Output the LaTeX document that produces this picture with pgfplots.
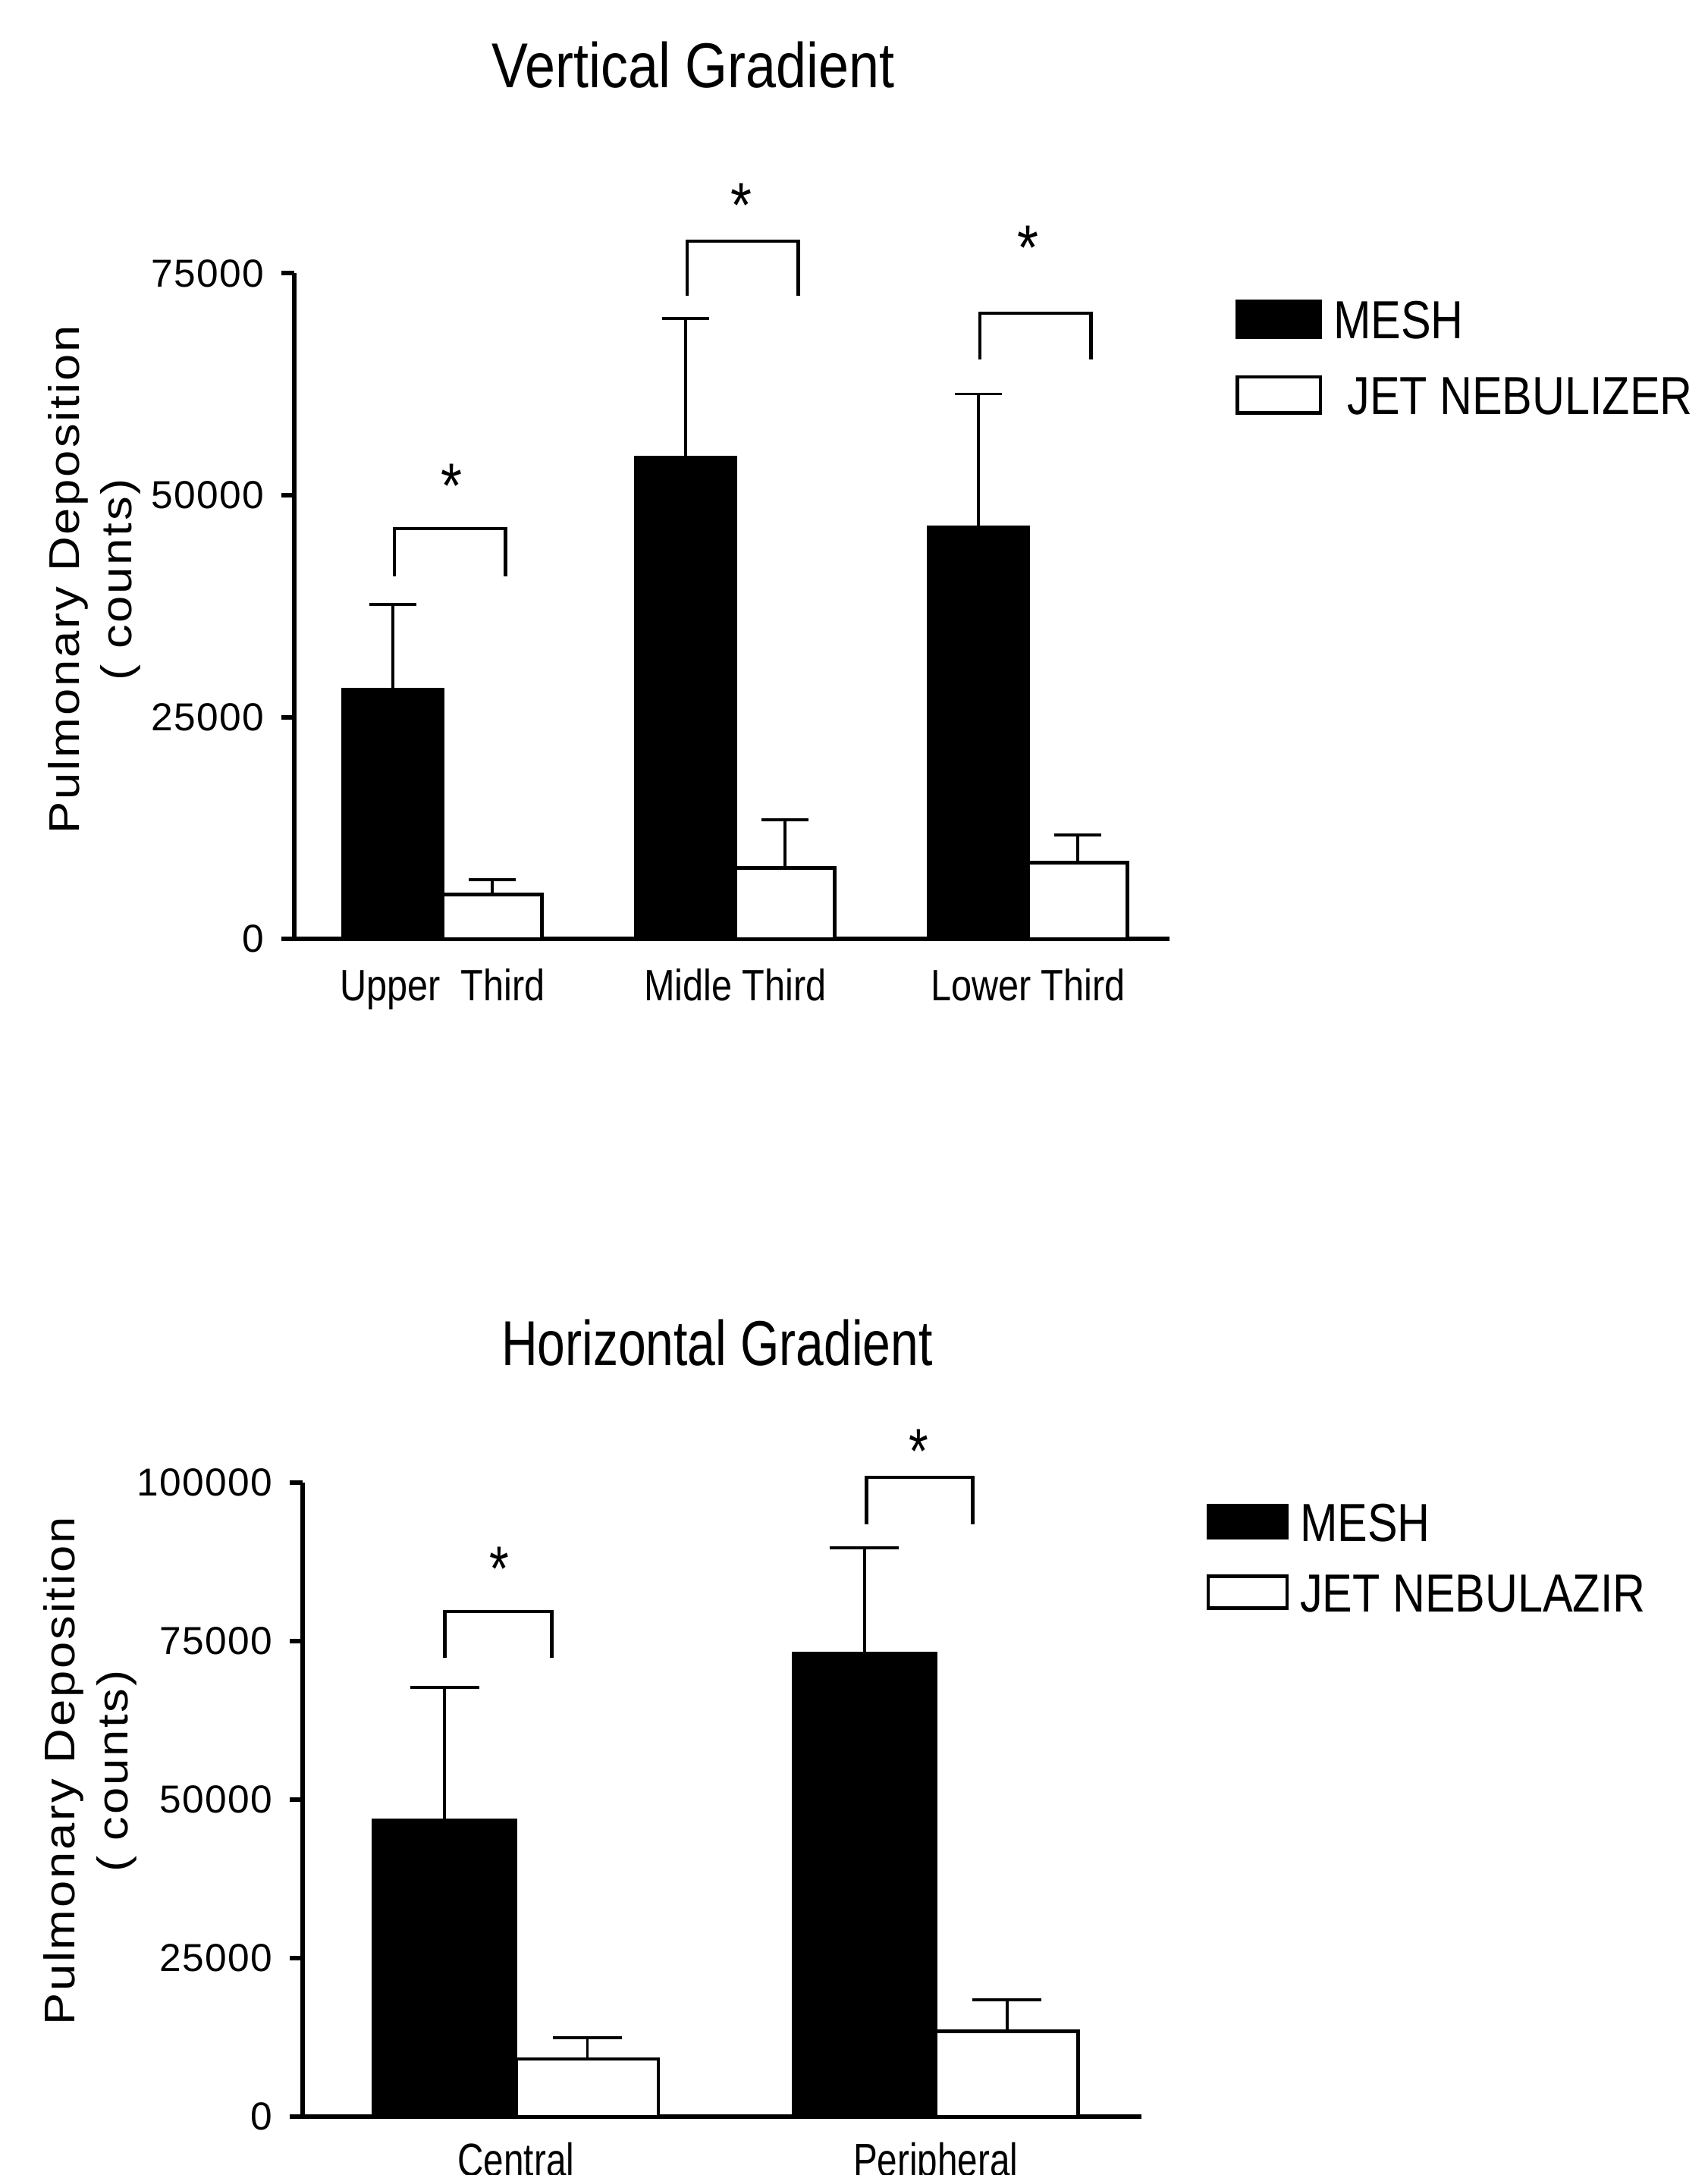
\documentclass[border=0pt]{standalone}
\usepackage{fontspec}
\setmainfont{Liberation Sans}
\newfontfamily\titleA{Liberation Sans}[FakeStretch=0.86]
\newfontfamily\titleB{Liberation Sans}[FakeStretch=0.79]
\newfontfamily\legf{Liberation Sans}[FakeStretch=0.84]
\newfontfamily\xtf{Liberation Sans}[FakeStretch=0.84]
\newfontfamily\xtfB{Liberation Sans}[FakeStretch=0.78]
\newfontfamily\ylf{Liberation Sans}[FakeStretch=1.12,LetterSpace=5]
\newfontfamily\ytf{Liberation Sans}[LetterSpace=3]
\usepackage{pgfplots}
\pgfplotsset{compat=1.18}
\pgfplotsset{
  boxlegA/.style={legend image code/.code={\draw[##1,line width=0.7pt] (0mm,-1.3mm) rectangle (6mm,1.3mm);}},
  boxlegB/.style={legend image code/.code={\draw[##1,line width=0.7pt] (0mm,-1.15mm) rectangle (5.7mm,1.15mm);}},
  common/.style={
    scale only axis, clip=false,
    axis x line*=bottom, axis y line*=left,
    axis line style={line width=0.9pt, black},
    tick align=outside, major tick length=0.9mm,
    ytick style={line width=0.9pt, black},
    xtick style={draw=none},
    ymin=0, scaled y ticks=false,
    yticklabel style={font=\ytf\fontsize{8}{9}\selectfont},
    legend cell align=left,
  },
  meshbar/.style={ybar, bar width=0.34, bar shift=0, fill=black, draw=black, line width=0.7pt},
  jetbar/.style={ybar, bar width=0.34, bar shift=0, fill=white, draw=black, line width=0.7pt},
  brk/.style={black, line width=0.7pt, mark=none, forget plot},
}
\begin{document}
\begin{tikzpicture}
\useasboundingbox (0,0) rectangle (123.1mm,156.8mm);

% ---------------- Vertical gradient ----------------
\begin{axis}[common,
  at={(21.2mm,89.1mm)}, anchor=south west,
  width=63.1mm, height=48mm,
  xmin=-0.507, xmax=2.483, ymax=75000,
  ytick={0,25000,50000,75000}, yticklabels={0,25000,50000,75000},
  xtick={0,1,2}, xticklabels={Upper\ \ Third, Midle Third, Lower Third},
  xticklabel style={font=\xtf\fontsize{9}{10}\selectfont},
  title={Vertical Gradient},
  title style={at={(axis description cs:0.456,1.3125)}, anchor=center, yshift=-6pt, inner sep=0pt, font=\titleA\fontsize{13}{15}\selectfont},
  ylabel={Pulmonary Deposition\\( counts)},
  ylabel style={align=center, at={(axis description cs:-0.228,0.54)}, anchor=center, font=\ylf\fontsize{8.8}{10.8}\selectfont},
  legend style={draw=none, fill=none, at={(axis description cs:1.0745,0.962)}, anchor=north west,
    inner sep=0pt, row sep=2.6mm, font=\legf\fontsize{11}{11}\selectfont,
    nodes={inner xsep=0.8mm, inner ysep=0pt, text height=2.8mm, text depth=0pt}},
]
\addplot[meshbar, boxlegA,
  error bars/.cd, y dir=plus, y explicit,
  error bar style={line width=0.6pt, black},
  error mark options={rotate=90, mark size=4.8pt, line width=0.6pt, black}]
  coordinates {(-0.17,28100) +- (0,9600) (0.83,54250) +- (0,15650) (1.83,46400) +- (0,15000)};
\addlegendentry{MESH}
\addplot[jetbar, boxlegA,
  error bars/.cd, y dir=plus, y explicit,
  error bar style={line width=0.6pt, black},
  error mark options={rotate=90, mark size=4.8pt, line width=0.6pt, black}]
  coordinates {(0.17,5000) +- (0,1700) (1.17,8000) +- (0,5400) (2.17,8600) +- (0,3100)};
\addlegendentry{\hspace{1mm}JET NEBULIZER}
\addplot[brk] coordinates {(-0.165,40900) (-0.165,46250) (0.215,46250) (0.215,40900)};
\addplot[brk] coordinates {(0.835,72500) (0.835,78600) (1.215,78600) (1.215,72500)};
\addplot[brk] coordinates {(1.835,65300) (1.835,70500) (2.215,70500) (2.215,65300)};
\node[anchor=north, inner sep=0pt, font=\titleA\fontsize{13}{13}\selectfont] at (axis cs:0.03,53600) {*};
\node[anchor=north, inner sep=0pt, font=\titleA\fontsize{13}{13}\selectfont] at (axis cs:1.02,85200) {*};
\node[anchor=north, inner sep=0pt, font=\titleA\fontsize{13}{13}\selectfont] at (axis cs:2.0,80400) {*};
\end{axis}

% ---------------- Horizontal gradient ----------------
\begin{axis}[common,
  at={(21.8mm,4.2mm)}, anchor=south west,
  width=60.5mm, height=45.7mm,
  xmin=-0.509, xmax=1.491, ymax=100000,
  ytick={0,25000,50000,75000,100000}, yticklabels={0,25000,50000,75000,100000},
  xtick={0,1}, xticklabels={Central, Peripheral},
  xticklabel style={font=\xtfB\fontsize{9.5}{10}\selectfont, yshift=0.3mm},
  title={Horizontal Gradient},
  title style={at={(axis description cs:0.494,1.221)}, anchor=center, yshift=-6pt, inner sep=0pt, font=\titleB\fontsize{13}{15}\selectfont},
  ylabel={Pulmonary Deposition\\( counts)},
  ylabel style={align=center, at={(axis description cs:-0.253,0.545)}, anchor=center, font=\ylf\fontsize{8.8}{10.8}\selectfont},
  legend style={draw=none, fill=none, at={(axis description cs:1.076,0.971)}, anchor=north west,
    inner sep=0pt, row sep=2.3mm, font=\legf\fontsize{11}{11}\selectfont,
    nodes={inner xsep=0.8mm, inner ysep=0pt, text height=2.8mm, text depth=0pt}},
]
\addplot[meshbar, bar width=0.339, boxlegB,
  error bars/.cd, y dir=plus, y explicit,
  error bar style={line width=0.6pt, black},
  error mark options={rotate=90, mark size=7.1pt, line width=0.6pt, black}]
  coordinates {(-0.17,46800) +- (0,20900) (0.83,73100) +- (0,16600)};
\addlegendentry{MESH}
\addplot[jetbar, bar width=0.339, boxlegB,
  error bars/.cd, y dir=plus, y explicit,
  error bar style={line width=0.6pt, black},
  error mark options={rotate=90, mark size=7.1pt, line width=0.6pt, black}]
  coordinates {(0.17,9100) +- (0,3350) (1.17,13500) +- (0,4900)};
\addlegendentry{JET NEBULAZIR}
\addplot[brk] coordinates {(-0.17,72400) (-0.17,79700) (0.085,79700) (0.085,72400)};
\addplot[brk] coordinates {(0.835,93400) (0.835,100900) (1.088,100900) (1.088,93400)};
\node[anchor=north, inner sep=0pt, font=\titleB\fontsize{13}{13}\selectfont] at (axis cs:-0.04,90000) {*};
\node[anchor=north, inner sep=0pt, font=\titleB\fontsize{13}{13}\selectfont] at (axis cs:0.96,108600) {*};
\end{axis}
\end{tikzpicture}
\end{document}
